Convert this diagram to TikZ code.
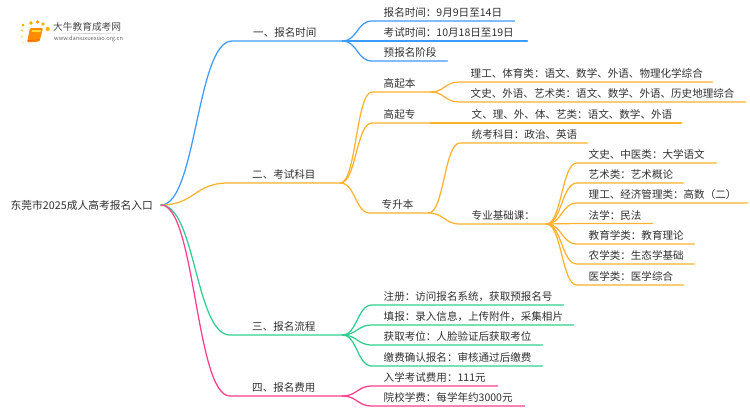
\documentclass[tikz,border=0pt]{standalone}
\usepackage{fontspec}
\setmainfont{Noto Sans CJK SC}
\usetikzlibrary{calc}
\definecolor{cblue}{HTML}{3D9BFF}
\definecolor{corange}{HTML}{FFB22E}
\definecolor{cgreen}{HTML}{2FD08F}
\definecolor{cpink}{HTML}{FF3D8C}
\definecolor{ctext}{HTML}{303030}
\tikzset{
  txtbase/.style={inner sep=0pt,text=ctext,font=\fontsize{10.55}{12}\selectfont},
  topic/.style 2 args={txtbase,anchor=south west,text width=#1,align=left,text height=9pt,text depth=4pt,
    execute at begin node={\hspace*{#2}}},
  lvl/.style={topic={#1}{11.5pt}},
  mainbranch/.style={topic={#1}{21pt}},
  linkline/.style={line width=1.25pt,line cap=round},
  curvy/.style={to path={let \p1=(\tikztostart),\p2=(\tikztotarget),\n1={0.5*(\x1+\x2)} in
    .. controls (\n1,\y1) and (\n1,\y2) .. (\tikztotarget)}},
  spark/.style={circle,inner sep=0pt,fill=#1},
}
\begin{document}
\begin{tikzpicture}[x=1pt,y=-1pt]
\useasboundingbox (0,0) rectangle (750,410);
\fill[white] (0,0) rectangle (750,410);
% logo
\node[spark={orange!70!yellow},minimum size=3pt] (d1) at (23,25) {};
\node[spark={orange!70!yellow},minimum size=3.6pt] (d2) at (31,23) {};
\node[spark={orange!70!yellow},minimum size=3.6pt] (d3) at (37.5,22) {};
\node[spark={orange!60!yellow},minimum size=3.6pt] (d4) at (43,24) {};
\node[spark={orange!60!yellow},minimum size=4.2pt] (d5) at (47.7,29) {};
\node[spark={orange!40!yellow!70},minimum size=2.6pt] (d6) at (22,30.5) {};
\node[spark={orange!40!yellow!60},minimum size=2.2pt] (d7) at (21.7,36.5) {};
\node[spark={orange!40!yellow!50},minimum size=2pt] (d8) at (23.5,42.5) {};
\fill[orange!90!yellow,rounded corners=1.2pt] (30,28) -- (43,28) -- (39.5,41.5) -- (27,42.5) -- cycle;
\fill[orange!35!yellow!80] (32,30) -- (41,30) -- (40.5,32) -- (31.5,32) -- cycle;
\draw[orange!60!red,line width=.5pt] (28,40.5) -- (39.5,39.8);
\shade[left color=white,right color=white,middle color=black!18] (45,33) rectangle (133,33.7);
\node[txtbase,anchor=west,font=\fontsize{9.7}{11}\selectfont,text=black!72] (logotitle) at (53,27) {大牛教育成考网};
\node[txtbase,anchor=west,font=\fontsize{5.7}{7}\selectfont,text=black!60] (logourl) at (54,38.7) {www.daniuxuexiao.org.cn};
% root
\node[txtbase,anchor=east,inner xsep=8pt,font=\fontsize{10.75}{12}\selectfont] (root) at (161,205) {东莞市2025成人高考报名入口};
% 一
\node[mainbranch={110pt}] (a) at (232,41) {一、报名时间};
\node[lvl={142pt}] (a1) at (372,21) {报名时间：9月9日至14日};
\node[lvl={155pt}] (a2) at (372,41) {考试时间：10月18日至19日};
\node[lvl={75pt}] (a3) at (372,61) {预报名阶段};
\draw[linkline,cblue] (root.east) to[curvy] (a.south west) -- (a.south east);
\draw[linkline,cblue] (a.south east) to[curvy] (a1.south west) -- (a1.south east);
\draw[linkline,cblue] (a.south east) -- (a2.south west) -- (a2.south east);
\draw[linkline,cblue] (a.south east) to[curvy] (a3.south west) -- (a3.south east);
% 二
\node[topic={112pt}{24pt}] (b) at (228,183) {二、考试科目};
\node[lvl={58pt}] (b1) at (372,92) {高起本};
\node[lvl={58pt}] (b2) at (372,123) {高起专};
\node[lvl={58pt}] (b3) at (370,213) {专升本};
\node[lvl={253pt}] (b11) at (459,82) {理工、体育类：语文、数学、外语、物理化学综合};
\node[lvl={286pt}] (b12) at (459,102) {文史、外语、艺术类：语文、数学、外语、历史地理综合};
\node[lvl={221pt}] (b21) at (460,123) {文、理、外、体、艺类：语文、数学、外语};
\node[lvl={127pt}] (b31) at (460,143) {统考科目：政治、英语};
\node[lvl={86pt}] (b32) at (460,224) {专业基础课：};
\node[lvl={139pt}] (c1) at (577,163) {文史、中医类：大学语文};
\node[lvl={106pt}] (c2) at (577,183) {艺术类：艺术概论};
\node[lvl={170pt}] (c3) at (577,203) {理工、经济管理类：高数（二）};
\node[lvl={75pt}] (c4) at (577,223.5) {法学：民法};
\node[lvl={117pt}] (c5) at (577,244) {教育学类：教育理论};
\node[lvl={117pt}] (c6) at (577,264) {农学类：生态学基础};
\node[lvl={106pt}] (c7) at (577,285) {医学类：医学综合};
\begin{scope}[linkline,corange]
\draw (root.east) to[curvy] (b.south west) -- (b.south east);
\draw (b.south east) to[curvy] (b1.south west) -- (b1.south east);
\draw (b.south east) to[curvy] (b2.south west) -- (b2.south east);
\draw (b.south east) to[curvy] (b3.south west) -- (b3.south east);
\draw (b1.south east) to[curvy] (b11.south west) -- (b11.south east);
\draw (b1.south east) to[curvy] (b12.south west) -- (b12.south east);
\draw (b2.south east) -- (b21.south west) -- (b21.south east);
\draw (b3.south east) to[curvy] (b31.south west) -- (b31.south east);
\draw (b3.south east) to[curvy] (b32.south west) -- (b32.south east);
\foreach \kid in {c1,c2,c3,c4,c5,c6,c7}
  \draw (b32.south east) to[curvy] (\kid.south west) -- (\kid.south east);
\end{scope}
% 三
\node[topic={112pt}{22pt}] (e) at (230,335) {三、报名流程};
\node[lvl={191pt}] (e1) at (372,305) {注册：访问报名系统，获取预报名号};
\node[lvl={201pt}] (e2) at (372,325) {填报：录入信息，上传附件，采集相片};
\node[lvl={170pt}] (e3) at (372,345) {获取考位：人脸验证后获取考位};
\node[lvl={170pt}] (e4) at (372,366) {缴费确认报名：审核通过后缴费};
\begin{scope}[linkline,cgreen]
\draw (root.east) to[curvy] (e.south west) -- (e.south east);
\foreach \kid in {e1,e2,e3,e4}
  \draw (e.south east) to[curvy] (\kid.south west) -- (\kid.south east);
\end{scope}
% 四
\node[topic={112pt}{22pt}] (f) at (230,396) {四、报名费用};
\node[lvl={125pt}] (f1) at (372,386) {入学考试费用：111元};
\node[lvl={152pt}] (f2) at (372,406) {院校学费：每学年约3000元};
\begin{scope}[linkline,cpink]
\draw (root.east) to[curvy] (f.south west) -- (f.south east);
\foreach \kid in {f1,f2}
  \draw (f.south east) to[curvy] (\kid.south west) -- (\kid.south east);
\end{scope}
\end{tikzpicture}
\end{document}
